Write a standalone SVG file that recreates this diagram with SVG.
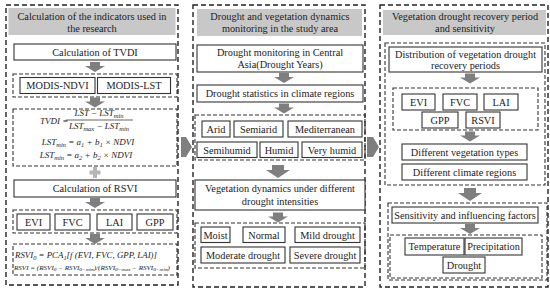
<svg xmlns="http://www.w3.org/2000/svg" width="550" height="291" viewBox="0 0 550 291">
<defs>
<style>
.panel{fill:none;stroke:#222;stroke-width:1.4;stroke-dasharray:5 3}
.grp{fill:none;stroke:#333;stroke-width:1.1;stroke-dasharray:4 2}
.hdr{fill:#c8c8c8}
.box{fill:#fff;stroke:#333;stroke-width:1.1}
.t{font-family:"Liberation Serif","Times New Roman",serif;font-size:10.3px;fill:#222;text-anchor:middle}
.f{font-family:"Liberation Serif","Times New Roman",serif;font-size:9px;font-style:italic;fill:#222}
.arr{fill:#7f7f7f}
</style>
<path id="da" d="M-5 0h10v4h5l-10 6l-10-6h5z"/>
<path id="dab" d="M-6 0h12v5h6l-12 8l-12-8h6z"/>
</defs>

<g id="panel1">
<rect class="panel" x="6" y="5" width="172" height="280"/>
<rect class="hdr" x="8.5" y="8" width="167" height="27"/>
<text class="t" x="92" y="19.5">Calculation of the indicators used in</text>
<text class="t" x="92" y="31.5">the research</text>
</g>
<g id="tvdi">
<rect class="box" x="14" y="44" width="162" height="16"/>
<text class="t" x="95" y="55.5">Calculation of TVDI</text>
</g>
<g id="modis">
<rect class="grp" x="13" y="74" width="164" height="23"/>
<rect class="box" x="20" y="77.5" width="75" height="16"/>
<text class="t" x="57.5" y="89">MODIS-NDVI</text>
<rect class="box" x="97.5" y="77.5" width="73" height="16"/>
<text class="t" x="134" y="89">MODIS-LST</text>
</g>
<g id="tvdiformula">
<rect class="grp" x="13" y="109" width="164" height="57"/>
<text class="f" x="40" y="123.5">TVDI =</text>
<text class="f" x="99" y="116" text-anchor="middle">LST − LST<tspan font-size="6.5" dy="1.5">min</tspan></text>
<line x1="66" y1="120" x2="133" y2="120" stroke="#222" stroke-width="0.7"/>
<text class="f" x="99" y="129" text-anchor="middle">LST<tspan font-size="6.5" dy="1.5">max</tspan><tspan dy="-1.5"> − LST</tspan><tspan font-size="6.5" dy="1.5">min</tspan></text>
<text class="f" x="88" y="145" text-anchor="middle">LST<tspan font-size="6.5" dy="1.5">min</tspan><tspan dy="-1.5"> = a</tspan><tspan font-size="6.5" dy="1.5">1</tspan><tspan dy="-1.5"> + b</tspan><tspan font-size="6.5" dy="1.5">1</tspan><tspan dy="-1.5"> × NDVI</tspan></text>
<text class="f" x="86" y="158" text-anchor="middle">LST<tspan font-size="6.5" dy="1.5">min</tspan><tspan dy="-1.5"> = a</tspan><tspan font-size="6.5" dy="1.5">2</tspan><tspan dy="-1.5"> + b</tspan><tspan font-size="6.5" dy="1.5">2</tspan><tspan dy="-1.5"> × NDVI</tspan></text>
</g>
<g id="rsvi">
<rect class="box" x="14" y="180" width="162" height="17"/>
<text class="t" x="95" y="192">Calculation of RSVI</text>
</g>
<g id="vi1">
<rect class="grp" x="13" y="210" width="164" height="23"/>
<rect class="box" x="17" y="214" width="33" height="16"/>
<text class="t" x="33.5" y="225.5">EVI</text>
<rect class="box" x="55" y="214" width="35" height="16"/>
<text class="t" x="72.5" y="225.5">FVC</text>
<rect class="box" x="97" y="214" width="35" height="16"/>
<text class="t" x="114.5" y="225.5">LAI</text>
<rect class="box" x="137" y="214" width="36" height="16"/>
<text class="t" x="155" y="225.5">GPP</text>
</g>
<g id="rsviformula">
<rect class="grp" x="13" y="244" width="164" height="31"/>
<text class="f" x="15" y="258" textLength="142" lengthAdjust="spacingAndGlyphs">RSVI<tspan font-size="6.5" dy="1.5">0</tspan><tspan dy="-1.5"> = PCA</tspan><tspan font-size="6.5" dy="1.5">1</tspan><tspan dy="-1.5">[f (EVI, FVC, GPP, LAI)]</tspan></text>
<text class="f" x="14" y="269.5" textLength="156" lengthAdjust="spacingAndGlyphs" style="font-size:5.5px">RSVI = (RSVI<tspan font-size="4.2" dy="1">0</tspan><tspan dy="-1"> − RSVI</tspan><tspan font-size="4.2" dy="1">0−min</tspan><tspan dy="-1">)/(RSVI</tspan><tspan font-size="4.2" dy="1">0−max</tspan><tspan dy="-1"> − RSVI</tspan><tspan font-size="4.2" dy="1">0−min</tspan><tspan dy="-1">)</tspan></text>
</g>

<g id="panel2">
<rect class="panel" x="193" y="5" width="172" height="282"/>
<rect class="hdr" x="197" y="9" width="165" height="27"/>
<text class="t" x="280" y="20">Drought and vegetation dynamics</text>
<text class="t" x="280" y="32">monitoring in the study area</text>
</g>
<g id="dm">
<rect class="box" x="197" y="45" width="166" height="27"/>
<text class="t" x="280" y="56">Drought monitoring in Central</text>
<text class="t" x="280" y="68">Asia(Drought Years)</text>
</g>
<g id="ds">
<rect class="box" x="197" y="85" width="166" height="17"/>
<text class="t" x="280" y="97">Drought statistics in climate regions</text>
</g>
<g id="climate">
<rect class="grp" x="195" y="115" width="170" height="45"/>
<rect class="box" x="202" y="121" width="28" height="16"/>
<text class="t" x="216" y="132.5">Arid</text>
<rect class="box" x="234" y="121" width="49" height="16"/>
<text class="t" x="258.5" y="132.5">Semiarid</text>
<rect class="box" x="288" y="121" width="74" height="16"/>
<text class="t" x="325" y="132.5">Mediterranean</text>
<rect class="box" x="197" y="142" width="60" height="15.5"/>
<text class="t" x="227" y="153.5">Semihumid</text>
<rect class="box" x="260" y="142" width="38" height="15.5"/>
<text class="t" x="279" y="153.5">Humid</text>
<rect class="box" x="302" y="142" width="60" height="15.5"/>
<text class="t" x="332" y="153.5">Very humid</text>
</g>
<g id="vd">
<rect class="box" x="195" y="180" width="170" height="30"/>
<text class="t" x="280" y="192">Vegetation dynamics under different</text>
<text class="t" x="280" y="205">drought intensities</text>
</g>
<g id="intensity">
<rect class="grp" x="195" y="223" width="170" height="45"/>
<rect class="box" x="201" y="227" width="29" height="15.5"/>
<text class="t" x="215.5" y="238.5">Moist</text>
<rect class="box" x="243" y="227" width="42" height="15.5"/>
<text class="t" x="264" y="238.5">Normal</text>
<rect class="box" x="295" y="227" width="65" height="15.5"/>
<text class="t" x="327.5" y="238.5">Mild drought</text>
<rect class="box" x="201" y="247" width="84" height="16"/>
<text class="t" x="243" y="258.5">Moderate drought</text>
<rect class="box" x="290" y="247" width="70" height="16"/>
<text class="t" x="325" y="258.5">Severe drought</text>
</g>

<g id="panel3">
<rect class="panel" x="380" y="5" width="168" height="282"/>
<rect class="hdr" x="383" y="10" width="163" height="25"/>
<text class="t" x="465" y="19.5">Vegetation drought recovery period</text>
<text class="t" x="465" y="31.5">and sensitivity</text>
<rect class="grp" x="385" y="43" width="160" height="142"/>
</g>
<g id="dist">
<rect class="box" x="389" y="47" width="153" height="25"/>
<text class="t" x="465.5" y="57.5">Distribution of vegetation drought</text>
<text class="t" x="465.5" y="69">recovery periods</text>
</g>
<g id="vi2">
<rect class="grp" x="393" y="88" width="145" height="42"/>
<rect class="box" x="402" y="94" width="33" height="16"/>
<text class="t" x="418.5" y="105.5">EVI</text>
<rect class="box" x="443" y="94" width="34" height="16"/>
<text class="t" x="460" y="105.5">FVC</text>
<rect class="box" x="484" y="94" width="34" height="16"/>
<text class="t" x="501" y="105.5">LAI</text>
<rect class="box" x="422" y="112" width="36" height="16"/>
<text class="t" x="440" y="123.5">GPP</text>
<rect class="box" x="466" y="112" width="34" height="16"/>
<text class="t" x="483" y="123.5">RSVI</text>
</g>
<g id="vegtypes">
<rect class="box" x="402" y="144" width="125" height="16"/>
<text class="t" x="464.5" y="155.5">Different vegetation types</text>
</g>
<g id="climregions">
<rect class="box" x="402" y="164" width="125" height="16"/>
<text class="t" x="464.5" y="175.5">Different climate regions</text>
</g>
<g id="sens">
<rect class="grp" x="388" y="203" width="159" height="77"/>
<rect class="box" x="392" y="207" width="146" height="16"/>
<text class="t" x="465" y="218.5">Sensitivity and influencing factors</text>
</g>
<g id="factors">
<rect class="grp" x="390" y="235" width="152" height="43"/>
<rect class="box" x="405" y="238" width="59" height="17"/>
<text class="t" x="434.5" y="250">Temperature</text>
<rect class="box" x="465" y="238" width="57" height="17"/>
<text class="t" x="493.5" y="250">Precipitation</text>
<rect class="box" x="443" y="257" width="42" height="16"/>
<text class="t" x="464" y="268.5">Drought</text>
</g>

<g id="connectors" class="arr">
<use href="#da" x="95" y="62"/>
<use href="#da" x="95" y="97.5"/>
<path d="M93 167h4v3.5h3.5v4h-3.5v3.5h-4v-3.5h-3.5v-4h3.5z" fill="#b5b5b5"/>
<use href="#da" x="95" y="198"/>
<use href="#da" x="95" y="234"/>
<use href="#da" x="284" y="73"/>
<use href="#da" x="284" y="103.5"/>
<use href="#dab" x="278" y="165"/>
<use href="#da" x="278" y="212.5"/>
<use href="#da" x="470" y="73.5"/>
<use href="#da" x="470" y="131.5"/>
<use href="#dab" x="470" y="188"/>
<use href="#da" x="470" y="224"/>
<path d="M181 137h5l6 10l-6 10h-5z"/>
<path d="M367 137h6l6 10l-6 10h-6z"/>
</g>
</svg>
